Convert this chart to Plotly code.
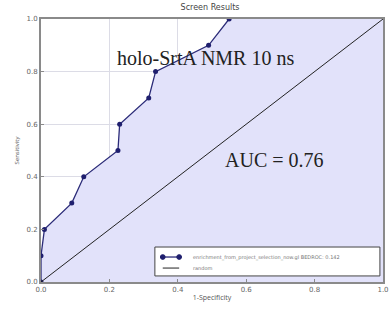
import plotly.graph_objects as go

fpr = [0.0, 0.0, 0.01, 0.09, 0.125, 0.225, 0.23, 0.315, 0.335, 0.49, 0.55]
tpr = [0.0, 0.1, 0.2, 0.3, 0.4, 0.5, 0.6, 0.7, 0.8, 0.9, 1.0]
rand_x = [0.0, 1.0]
rand_y = [0.0, 1.0]
ticks = [0.0, 0.2, 0.4, 0.6, 0.8, 1.0]
tick_text = ["0.0", "0.2", "0.4", "0.6", "0.8", "1.0"]
legend_labels = ["enrichment_from_project_selection_now.gl BEDROC: 0.142", "random"]

CURVE = "#2b2b78"
MARK = "#1f1f6e"

fig = go.Figure()
fig.add_trace(go.Scatter(
    x=fpr + [1.0], y=tpr + [1.0], mode="lines", line=dict(width=0),
    fill="tozeroy", fillcolor="rgba(226,226,250,1)", showlegend=False, hoverinfo="skip"))
fig.add_trace(go.Scatter(
    x=fpr, y=tpr, mode="lines+markers",
    line=dict(color=CURVE, width=1.3),
    marker=dict(color=MARK, size=5, symbol="circle"),
    name=legend_labels[0], showlegend=False))
fig.add_trace(go.Scatter(
    x=rand_x, y=rand_y, mode="lines", line=dict(color="#222222", width=1),
    name=legend_labels[1], showlegend=False))

axis_common = dict(
    range=[0, 1], tickvals=ticks, ticktext=tick_text, automargin=False,
    showgrid=True, gridcolor="#dcdce6", gridwidth=1,
    showline=True, mirror=True, linecolor="#8a8a8a", linewidth=2,
    ticks="inside", ticklen=3, tickcolor="#8a8a8a",
    tickfont=dict(size=7, color="#666666", family="DejaVu Sans"),
    zeroline=False, layer="above traces")

fig.update_xaxes(**axis_common,
                 title=dict(text="1-Specificity", font=dict(size=7, color="#555555"), standoff=2))
fig.update_yaxes(**axis_common,
                 title=dict(text="Sensitivity", font=dict(size=6, color="#555555"), standoff=6))

fig.add_annotation(x=0.482, y=0.852, xref="x", yref="y", text="holo-SrtA NMR 10 ns",
                   showarrow=False, font=dict(family="Liberation Serif", size=20, color="#222222"))
fig.add_annotation(x=0.684, y=0.464, xref="x", yref="y", text="AUC = 0.76",
                   showarrow=False, font=dict(family="Liberation Serif", size=20, color="#222222"))

# manual legend box
lx0, lx1, ly0, ly1 = 0.333, 0.991, 0.023, 0.133
fig.add_shape(type="rect", xref="x", yref="y", x0=lx0, x1=lx1, y0=ly0, y1=ly1,
              line=dict(color="#444444", width=1), fillcolor="white", layer="above")
r1, r2 = 0.095, 0.053
fig.add_shape(type="line", xref="x", yref="y", x0=0.356, x1=0.404, y0=r1, y1=r1,
              line=dict(color=CURVE, width=1.3), layer="above")
for cx in (0.356, 0.404):
    fig.add_shape(type="circle", xref="x", yref="y", x0=cx - 0.007, x1=cx + 0.007,
                  y0=r1 - 0.009, y1=r1 + 0.009, line=dict(color=MARK, width=1),
                  fillcolor=MARK, layer="above")
fig.add_shape(type="line", xref="x", yref="y", x0=0.356, x1=0.404, y0=r2, y1=r2,
              line=dict(color="#222222", width=1), layer="above")
fig.add_annotation(x=0.44, y=r1, xref="x", yref="y", text=legend_labels[0], showarrow=False,
                   xanchor="left", font=dict(size=5, color="#777777", family="DejaVu Sans"))
fig.add_annotation(x=0.44, y=r2, xref="x", yref="y", text=legend_labels[1], showarrow=False,
                   xanchor="left", font=dict(size=5, color="#777777", family="DejaVu Sans"))

fig.update_layout(
    width=389, height=311,
    margin=dict(l=41, r=6, t=19, b=29),
    paper_bgcolor="white", plot_bgcolor="white",
    title=dict(text="Screen Results", x=0.54, xanchor="center", y=0.985, yanchor="top",
               font=dict(size=8, color="#444444", family="DejaVu Sans")),
    showlegend=False,
)

fig.write_html("out.html", config={"displayModeBar": False},
               post_script="document.body.style.margin='0';document.body.style.padding='0';document.body.style.overflow='hidden';")
